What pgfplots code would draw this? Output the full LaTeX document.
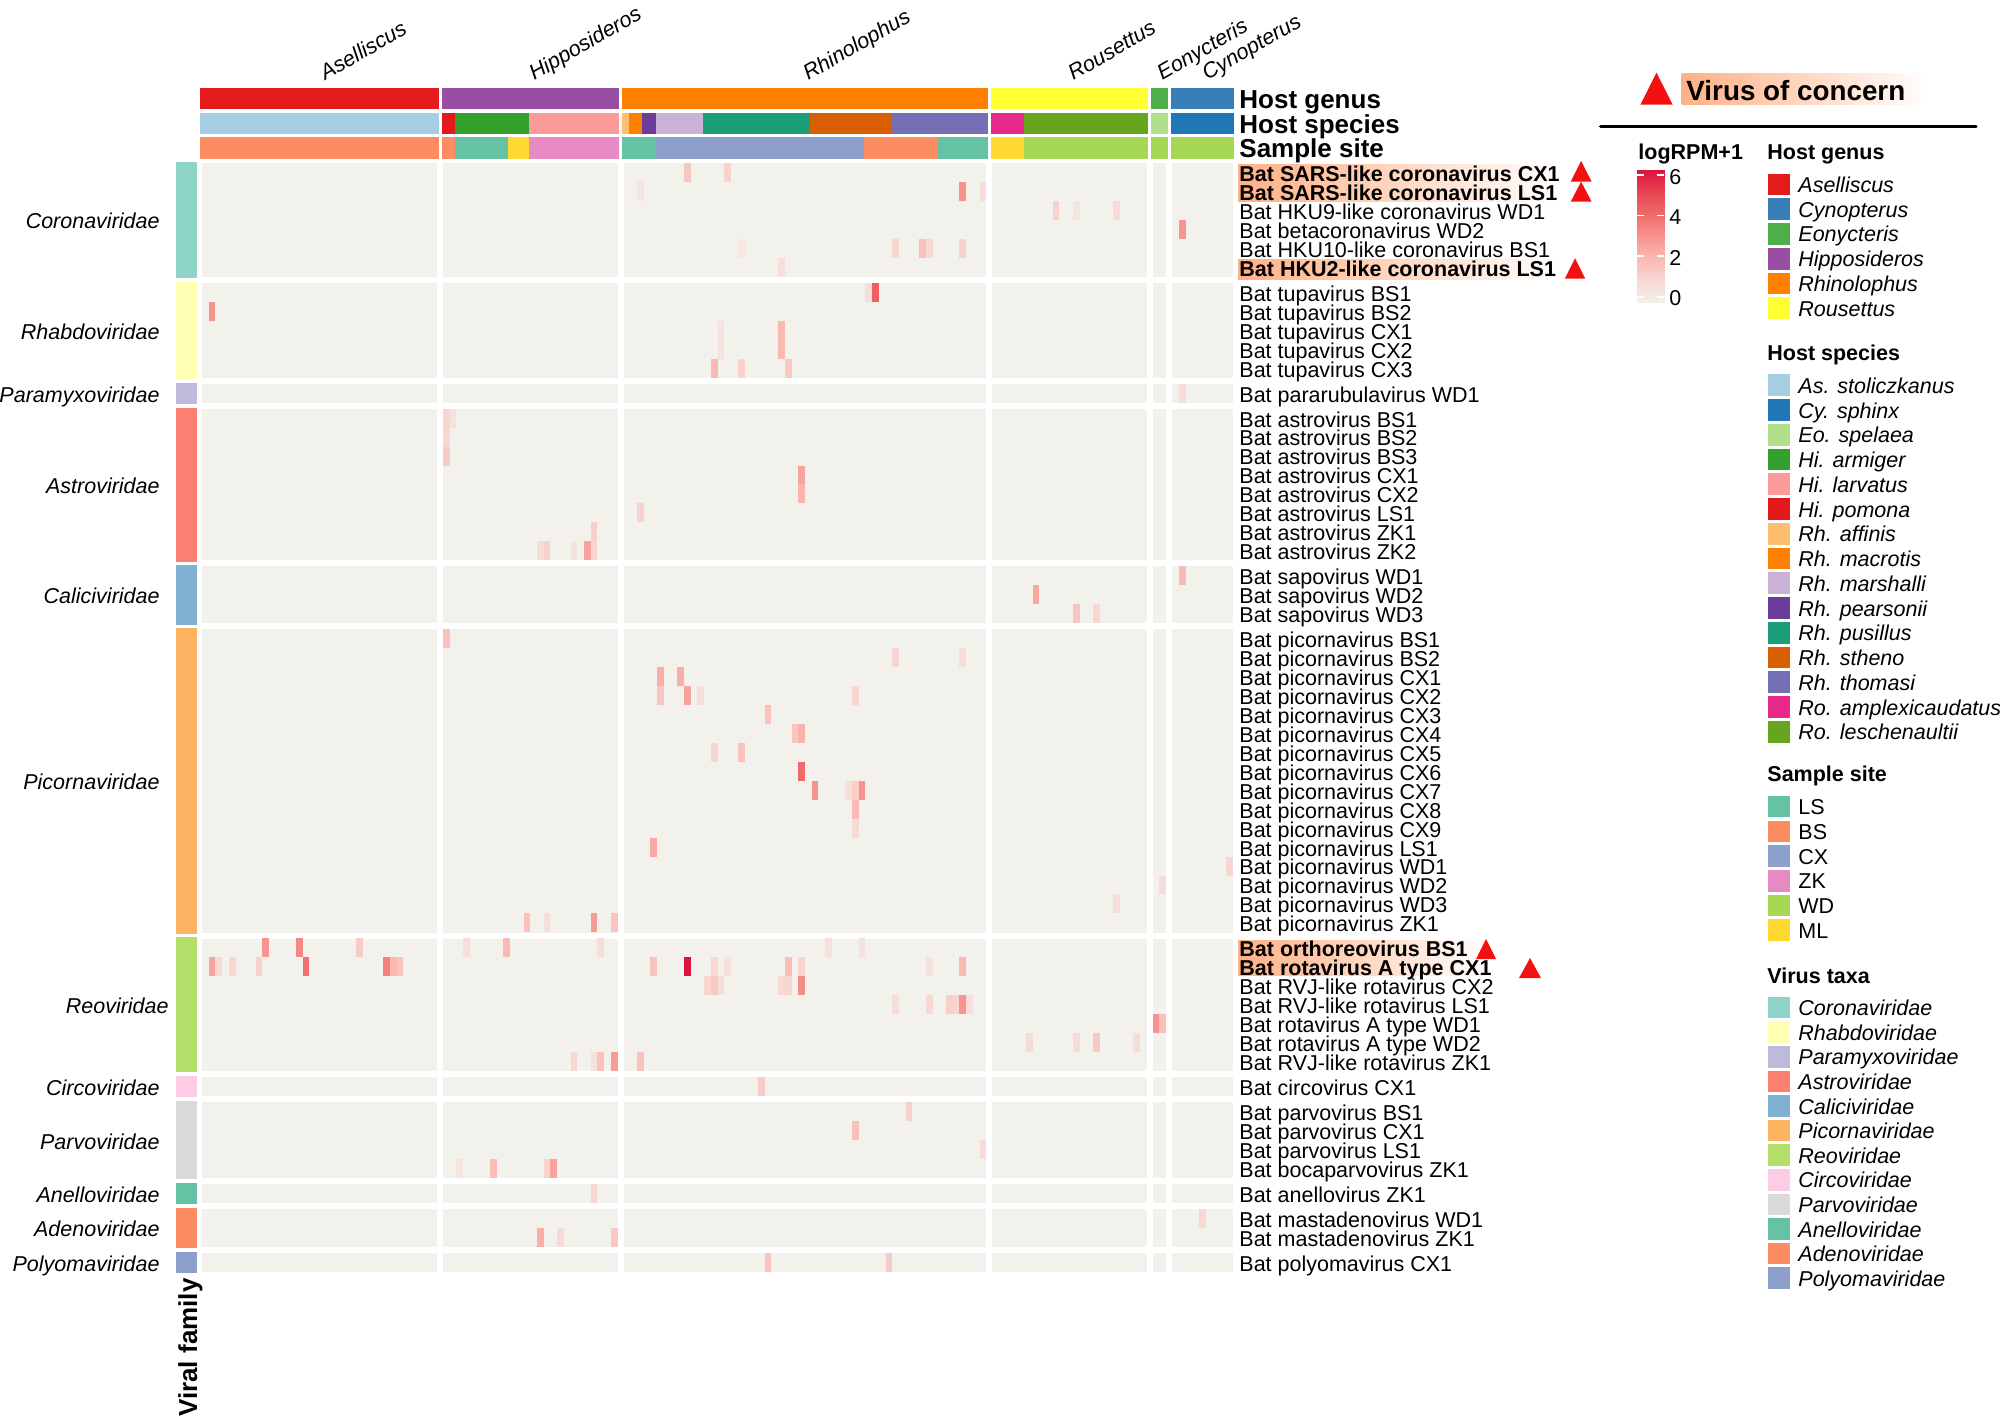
\documentclass[border=0pt]{standalone}
\usepackage{fontspec}
\setmainfont{Liberation Sans}
\usepackage{pgfplots}
\usepackage{pgfplotstable}
\pgfplotsset{compat=1.18}
\usepgfplotslibrary{patchplots}

% 1 unit of the big axis = 1 px of the reference = 0.5pt
\pgfdeclareplotmark{cell}{\pgfpathrectangle{\pgfqpoint{-1.68pt}{-4.74pt}}{\pgfqpoint{3.36pt}{9.48pt}}\pgfusepathqfill}
\pgfdeclareplotmark{swatch}{\pgfpathrectangle{\pgfqpoint{-5.5pt}{-5.4pt}}{\pgfqpoint{11pt}{10.8pt}}\pgfusepathqfill}

\definecolor{hl}{HTML}{FFB085}
\definecolor{trired}{HTML}{F21010}
\definecolor{cellbg}{HTML}{F3F1EC}
% host genus
\definecolor{gA}{HTML}{E41A1C}\definecolor{gC}{HTML}{377EB8}\definecolor{gE}{HTML}{4DAF4A}
\definecolor{gH}{HTML}{984EA3}\definecolor{gR}{HTML}{FF7F00}\definecolor{gO}{HTML}{FFFF33}
% host species
\definecolor{sAs}{HTML}{A6CEE3}\definecolor{sCy}{HTML}{1F78B4}\definecolor{sEo}{HTML}{B2DF8A}
\definecolor{sHa}{HTML}{33A02C}\definecolor{sHl}{HTML}{FB9A99}\definecolor{sHp}{HTML}{E31A1C}
\definecolor{sRa}{HTML}{FDBF6F}\definecolor{sRm}{HTML}{FF7F00}\definecolor{sRs}{HTML}{CAB2D6}
\definecolor{sRp}{HTML}{6A3D9A}\definecolor{sRu}{HTML}{1B9E77}\definecolor{sRt}{HTML}{D95F02}
\definecolor{sRh}{HTML}{7570B3}\definecolor{sOa}{HTML}{E7298A}\definecolor{sOl}{HTML}{66A61E}
% sample site
\definecolor{LS}{HTML}{66C2A5}\definecolor{BS}{HTML}{FC8D62}\definecolor{CX}{HTML}{8DA0CB}
\definecolor{ZK}{HTML}{E78AC3}\definecolor{WD}{HTML}{A6D854}\definecolor{ML}{HTML}{FFD92F}
% virus family
\definecolor{v1}{HTML}{8DD3C7}\definecolor{v2}{HTML}{FFFFB3}\definecolor{v3}{HTML}{BEBADA}
\definecolor{v4}{HTML}{FB8072}\definecolor{v5}{HTML}{80B1D3}\definecolor{v6}{HTML}{FDB462}
\definecolor{v7}{HTML}{B3DE69}\definecolor{v8}{HTML}{FCCDE5}\definecolor{v9}{HTML}{D9D9D9}
\definecolor{v10}{HTML}{66C2A5}\definecolor{v11}{HTML}{FC8D62}\definecolor{v12}{HTML}{8DA0CB}

% heatmap: c = column 1..149, r = row 1..55, v = logRPM+1
\pgfplotstableread{
c r v
71 1 1.6
77 1 1.2
64 2 0.5
112 2 3
115 2 0.8
125 3 1.2
128 3 0.5
134 3 0.9
142 4 3
79 5 0.4
102 5 1.1
106 5 1.8
107 5 1
112 5 1.2
85 6 0.7
98 7 0.7
99 7 4.3
2 8 3
76 9 0.6
85 9 2
76 10 0.6
85 10 2
75 11 2
79 11 1.2
86 11 1.5
142 12 0.8
36 13 1.1
37 13 0.6
36 14 1
36 15 1.4
88 16 2.6
88 17 2.1
64 18 1.2
58 19 1.3
50 20 0.9
51 20 1.2
55 20 0.6
57 20 2.6
58 20 1.1
142 21 2
122 22 2.5
128 23 1.6
131 23 1
36 24 1.7
102 25 1.1
112 25 0.8
67 26 2.3
70 26 2.3
67 27 1.6
71 27 2.6
73 27 0.7
96 27 1.1
83 28 1.7
87 29 1.6
88 29 2.2
75 30 1.1
79 30 1.7
88 31 4
90 32 3
95 32 0.8
96 32 1.3
97 32 3
96 33 2
96 34 0.9
66 35 2.4
149 36 1.1
140 37 0.8
134 38 0.7
48 39 1.7
51 39 0.7
58 39 2.8
61 39 1.6
10 40 3
15 40 3.3
24 40 1.4
39 40 0.7
45 40 2
59 40 0.8
92 40 0.6
97 40 0.6
2 41 2.6
3 41 0.9
5 41 1
9 41 1.2
16 41 3.8
28 41 3.5
29 41 2
30 41 1.7
66 41 1.7
71 41 6
75 41 1
77 41 0.7
86 41 1.9
88 41 1.1
107 41 0.6
112 41 2
74 42 1.1
75 42 1.5
76 42 0.8
85 42 1
86 42 1.1
88 42 3.2
102 43 0.8
107 43 1
110 43 1.3
111 43 1.1
112 43 3
113 43 0.7
139 44 3
140 44 1.8
121 45 0.9
128 45 0.9
131 45 1.5
137 45 0.8
55 46 1
58 46 0.6
59 46 1.7
61 46 2.8
64 46 1.7
82 47 1.4
104 48 1.3
96 49 1.8
115 50 0.9
38 51 0.5
43 51 1.8
51 51 1.2
52 51 2.6
58 52 1
145 53 1
50 54 2.3
53 54 0.9
61 54 1.5
83 55 1.7
101 55 1.4
}\heatdata

\pgfplotsset{
  colormap={heat}{rgb255(0pt)=(243,241,236); rgb255(1pt)=(247,216,211); rgb255(2pt)=(250,185,179);
    rgb255(3pt)=(248,148,143); rgb255(4pt)=(239,107,106); rgb255(5pt)=(231,68,82); rgb255(6pt)=(220,20,60)},
}

\newcommand{\bodyfont}{\fontsize{10.75}{10.75}\selectfont}
\newcommand{\headfont}{\fontsize{13}{13}\selectfont\bfseries}
% filled box: x0 x1 y0 y1 colour
\newcommand{\ann}[5]{\addplot[fill=#5,draw=none] coordinates {(#1,#3)(#2,#3)(#2,#4)(#1,#4)} -- cycle;}
% three annotation tracks
\newcommand{\gen}[3]{\ann{#1}{#2}{88}{109.3}{#3}}
\newcommand{\spc}[3]{\ann{#1}{#2}{112.7}{134}{#3}}
\newcommand{\sit}[3]{\ann{#1}{#2}{137.3}{158.7}{#3}}
% viral family bar and its name: [right end of name] y0 y1 centre colour name
\newcommand{\vfam}[6][160]{\ann{175.5}{197}{#2}{#3}{#5}\node[anchor=base east,inner sep=0pt,yshift=-4.5pt,font=\bodyfont\itshape] at (axis cs:#1,#4) {#6};}
\newcommand{\lab}[2]{\node[anchor=base west,inner sep=0pt,yshift=-4.4pt,font=\bodyfont] at (axis cs:1239,#1) {#2};}
\newcommand{\blab}[2]{\node[anchor=base west,inner sep=0pt,yshift=-4.4pt,font=\bodyfont\bfseries] at (axis cs:1239,#1) {#2};}
\newcommand{\leg}[3]{\addplot[only marks,mark=swatch,color=#2] coordinates {(1779,#1)};\node[anchor=base west,inner sep=0pt,yshift=-4pt,font=\bodyfont] at (axis cs:1798,#1) {#3};}
\newcommand{\legtitle}[2]{\node[anchor=base west,inner sep=0pt,font=\bodyfont\bfseries] at (axis cs:1767,#1) {#2};}
\newcommand{\hil}[4]{\addplot[draw=none,left color=hl,right color=white] coordinates {(#1,#3)(#2,#3)(#2,#4)(#1,#4)} -- cycle;}
% triangle: left right tipx top bottom
\newcommand{\tri}[5]{\addplot[fill=trired,draw=none] coordinates {(#1,#5)(#2,#5)(#3,#4)} -- cycle;}
\newcommand{\genus}[2]{\node[rotate=30,anchor=base west,inner sep=0pt,font=\bodyfont\itshape] at (axis cs:#1,81) {#2};}

\begin{document}
\begin{tikzpicture}
\useasboundingbox (0,0) rectangle (1000pt,708.5pt);
\begin{axis}[
  at={(0,0)}, anchor=south west,
  width=1000pt, height=708.5pt, scale only axis,
  xmin=0, xmax=2000, ymin=0, ymax=1417, y dir=reverse,
  axis lines=none, clip=false,
  colormap name=heat, point meta min=0, point meta max=6,
]
% heatmap ground and the gaps between the splits
\ann{202}{1232.5}{163.3}{1271.8}{cellbg}
\ann{437}{443}{160}{1275}{white}
\ann{617.6}{623.6}{160}{1275}{white}
\ann{986.2}{992.2}{160}{1275}{white}
\ann{1146.7}{1152.7}{160}{1275}{white}
\ann{1166.1}{1172.1}{160}{1275}{white}
\ann{200}{1235}{277}{283}{white}
\ann{200}{1235}{377.8}{383.8}{white}
\ann{200}{1235}{402.8}{408.8}{white}
\ann{200}{1235}{560.4}{566.4}{white}
\ann{200}{1235}{623.3}{629.3}{white}
\ann{200}{1235}{932.5}{938.5}{white}
\ann{200}{1235}{1071.2}{1077.2}{white}
\ann{200}{1235}{1096.1}{1102.1}{white}
\ann{200}{1235}{1177.9}{1183.9}{white}
\ann{200}{1235}{1202.9}{1208.9}{white}
\ann{200}{1235}{1246.8}{1252.8}{white}

\addplot[scatter,only marks,mark=cell,scatter src=explicit,
  scatter/use mapped color={fill=mapped color,draw=none}]
  table[meta=v,
    x expr={202+(\thisrow{c}-0.5)*6.715+6*((\thisrow{c}>35)+(\thisrow{c}>61)+(\thisrow{c}>115)+(\thisrow{c}>138)+(\thisrow{c}>140))},
    y expr={163.3+(\thisrow{r}-0.5)*18.95+6*((\thisrow{r}>6)+(\thisrow{r}>11)+(\thisrow{r}>12)+(\thisrow{r}>20)+(\thisrow{r}>23)+(\thisrow{r}>39)+(\thisrow{r}>46)+(\thisrow{r}>47)+(\thisrow{r}>51)+(\thisrow{r}>52)+(\thisrow{r}>54))}
  ] {\heatdata};

% host genus track
\gen{200.4}{438.6}{gA}
\gen{441.5}{619.2}{gH}
\gen{622.1}{987.5}{gR}
\gen{990.6}{1148.2}{gO}
\gen{1151.3}{1167.9}{gE}
\gen{1171}{1234.4}{gC}
% host species track
\spc{200.4}{438.6}{sAs}
\spc{441.5}{455.4}{sHp}
\spc{455.4}{529}{sHa}
\spc{529}{619.2}{sHl}
\spc{622.1}{628.8}{sRa}
\spc{628.8}{642.3}{sRm}
\spc{642.3}{655.8}{sRp}
\spc{655.8}{703.1}{sRs}
\spc{703.1}{809.8}{sRu}
\spc{809.8}{890.6}{sRt}
\spc{890.6}{987.5}{sRh}
\spc{990.6}{1024.1}{sOa}
\spc{1024.1}{1148.2}{sOl}
\spc{1151.3}{1167.9}{sEo}
\spc{1171}{1234.4}{sCy}
% sample site track
\sit{200.4}{438.6}{BS}
\sit{441.5}{455.4}{BS}
\sit{455.4}{508.4}{LS}
\sit{508.4}{529}{ML}
\sit{529}{619.2}{ZK}
\sit{622.1}{655.8}{LS}
\sit{655.8}{863.8}{CX}
\sit{863.8}{938}{BS}
\sit{938}{987.5}{LS}
\sit{990.6}{1024.1}{ML}
\sit{1024.1}{1148.2}{WD}
\sit{1151.3}{1167.9}{WD}
\sit{1171}{1234.4}{WD}

\genus{325}{Aselliscus}
\genus{534}{Hipposideros}
\genus{808}{Rhinolophus}
\genus{1073}{Rousettus}
\genus{1162}{Eonycteris}
\genus{1207}{Cynopterus}

\node[anchor=base west,inner sep=0pt,font=\headfont] at (axis cs:1239,108.7) {Host genus};
\node[anchor=base west,inner sep=0pt,font=\headfont] at (axis cs:1239,133.3) {Host species};
\node[anchor=base west,inner sep=0pt,font=\headfont] at (axis cs:1239,157.7) {Sample site};

% viral family column
\vfam{162}{278.3}{220}{v1}{Coronaviridae}
\vfam{281.7}{379}{330.4}{v2}{Rhabdoviridae}
\vfam{382.6}{404}{393.3}{v3}{Paramyxoviridae}
\vfam{407.6}{561.6}{484.6}{v4}{Astroviridae}
\vfam{565.2}{624.5}{594.8}{v5}{Caliciviridae}
\vfam{628.1}{933.7}{780.9}{v6}{Picornaviridae}
\vfam[169]{937.3}{1072.4}{1004.8}{v7}{Reoviridae}
\vfam{1076}{1097.3}{1086.7}{v8}{Circoviridae}
\vfam{1100.9}{1179.1}{1140}{v9}{Parvoviridae}
\vfam{1182.7}{1204.1}{1193.4}{v10}{Anelloviridae}
\vfam{1207.7}{1248}{1227.8}{v11}{Adenoviridae}
\vfam{1251.6}{1273}{1262.3}{v12}{Polyomaviridae}
\node[rotate=90,anchor=base east,inner sep=0pt,font=\headfont] at (axis cs:197,1278) {Viral family};

% highlighted rows
\hil{1238}{1561}{165}{201.7}
\hil{1238}{1561}{260}{280}
\hil{1238}{1490}{940}{975.7}
\hil{1681.7}{1929}{73.3}{104.3}

% row names
\blab{172.8}{Bat SARS-like coronavirus CX1}
\blab{191.7}{Bat SARS-like coronavirus LS1}
\lab{210.7}{Bat HKU9-like coronavirus WD1}
\lab{229.6}{Bat betacoronavirus WD2}
\lab{248.6}{Bat HKU10-like coronavirus BS1}
\blab{267.5}{Bat HKU2-like coronavirus LS1}
\lab{292.5}{Bat tupavirus BS1}
\lab{311.4}{Bat tupavirus BS2}
\lab{330.4}{Bat tupavirus CX1}
\lab{349.3}{Bat tupavirus CX2}
\lab{368.3}{Bat tupavirus CX3}
\lab{393.2}{Bat pararubulavirus WD1}
\lab{418.2}{Bat astrovirus BS1}
\lab{437.1}{Bat astrovirus BS2}
\lab{456.1}{Bat astrovirus BS3}
\lab{475}{Bat astrovirus CX1}
\lab{494}{Bat astrovirus CX2}
\lab{512.9}{Bat astrovirus LS1}
\lab{531.9}{Bat astrovirus ZK1}
\lab{550.8}{Bat astrovirus ZK2}
\lab{575.8}{Bat sapovirus WD1}
\lab{594.8}{Bat sapovirus WD2}
\lab{613.7}{Bat sapovirus WD3}
\lab{638.7}{Bat picornavirus BS1}
\lab{657.7}{Bat picornavirus BS2}
\lab{676.6}{Bat picornavirus CX1}
\lab{695.6}{Bat picornavirus CX2}
\lab{714.5}{Bat picornavirus CX3}
\lab{733.5}{Bat picornavirus CX4}
\lab{752.4}{Bat picornavirus CX5}
\lab{771.4}{Bat picornavirus CX6}
\lab{790.3}{Bat picornavirus CX7}
\lab{809.3}{Bat picornavirus CX8}
\lab{828.2}{Bat picornavirus CX9}
\lab{847.2}{Bat picornavirus LS1}
\lab{866.1}{Bat picornavirus WD1}
\lab{885.1}{Bat picornavirus WD2}
\lab{904}{Bat picornavirus WD3}
\lab{923}{Bat picornavirus ZK1}
\blab{948}{Bat orthoreovirus BS1}
\blab{966.9}{Bat rotavirus A type CX1}
\lab{985.9}{Bat RVJ-like rotavirus CX2}
\lab{1004.8}{Bat RVJ-like rotavirus LS1}
\lab{1023.8}{Bat rotavirus A type WD1}
\lab{1042.7}{Bat rotavirus A type WD2}
\lab{1061.7}{Bat RVJ-like rotavirus ZK1}
\lab{1086.7}{Bat circovirus CX1}
\lab{1111.6}{Bat parvovirus BS1}
\lab{1130.6}{Bat parvovirus CX1}
\lab{1149.5}{Bat parvovirus LS1}
\lab{1168.5}{Bat bocaparvovirus ZK1}
\lab{1193.4}{Bat anellovirus ZK1}
\lab{1218.4}{Bat mastadenovirus WD1}
\lab{1237.3}{Bat mastadenovirus ZK1}
\lab{1262.3}{Bat polyomavirus CX1}

% virus of concern marks
\tri{1570.7}{1591.6}{1581.1}{161}{181.7}
\tri{1570.7}{1591.6}{1581.1}{181.7}{201.7}
\tri{1564.8}{1585.2}{1575}{258.3}{278.7}
\tri{1476}{1496}{1486}{939}{959}
\tri{1519}{1541}{1530}{958}{978}
\tri{1640.4}{1672.7}{1656.5}{72.7}{104.7}
\node[anchor=base west,inner sep=0pt,font=\fontsize{13.9}{13.9}\selectfont\bfseries] at (axis cs:1686,101) {Virus of concern};
\addplot[black,line width=1.7pt,line cap=round] coordinates {(1600.6,126.3)(1976,126.3)};

\node[anchor=base west,inner sep=0pt,font=\bodyfont\bfseries] at (axis cs:1638,159.5) {logRPM+1};

% legends
\legtitle{160}{Host genus}
\leg{184.5}{gA}{\itshape Aselliscus}
\leg{209.25}{gC}{\itshape Cynopterus}
\leg{234}{gE}{\itshape Eonycteris}
\leg{258.75}{gH}{\itshape Hipposideros}
\leg{283.5}{gR}{\itshape Rhinolophus}
\leg{308.25}{gO}{\itshape Rousettus}
\legtitle{360}{Host species}
\leg{385.2}{sAs}{\itshape As. stoliczkanus}
\leg{410}{sCy}{\itshape Cy. sphinx}
\leg{434.7}{sEo}{\itshape Eo. spelaea}
\leg{459.5}{sHa}{\itshape Hi. armiger}
\leg{484.2}{sHl}{\itshape Hi. larvatus}
\leg{509}{sHp}{\itshape Hi. pomona}
\leg{533.7}{sRa}{\itshape Rh. affinis}
\leg{558.5}{sRm}{\itshape Rh. macrotis}
\leg{583.2}{sRs}{\itshape Rh. marshalli}
\leg{608}{sRp}{\itshape Rh. pearsonii}
\leg{632.7}{sRu}{\itshape Rh. pusillus}
\leg{657.5}{sRt}{\itshape Rh. stheno}
\leg{682.2}{sRh}{\itshape Rh. thomasi}
\leg{707}{sOa}{\itshape Ro. amplexicaudatus}
\leg{731.7}{sOl}{\itshape Ro. leschenaultii}
\legtitle{781.8}{Sample site}
\leg{806.6}{LS}{LS}
\leg{831.3}{BS}{BS}
\leg{856}{CX}{CX}
\leg{880.7}{ZK}{ZK}
\leg{905.4}{WD}{WD}
\leg{930.1}{ML}{ML}
\legtitle{983}{Virus taxa}
\leg{1007.6}{v1}{\itshape Coronaviridae}
\leg{1032.2}{v2}{\itshape Rhabdoviridae}
\leg{1056.8}{v3}{\itshape Paramyxoviridae}
\leg{1081.4}{v4}{\itshape Astroviridae}
\leg{1106}{v5}{\itshape Caliciviridae}
\leg{1130.6}{v6}{\itshape Picornaviridae}
\leg{1155.2}{v7}{\itshape Reoviridae}
\leg{1179.8}{v8}{\itshape Circoviridae}
\leg{1204.4}{v9}{\itshape Parvoviridae}
\leg{1229}{v10}{\itshape Anelloviridae}
\leg{1253.6}{v11}{\itshape Adenoviridae}
\leg{1278.2}{v12}{\itshape Polyomaviridae}
\end{axis}

% colour key: bar from y=170 to y=303 in reference px
\begin{axis}[
  at={(818.5pt,557pt)}, anchor=south west,
  width=13.5pt, height=66.5pt, scale only axis,
  xmin=0, xmax=1, ymin=-0.3, ymax=6.25,
  xtick=\empty, ytick={0,2,4,6},
  axis line style={draw=none},
  ymajorticks=true, ytick pos=both, yticklabel pos=right,
  tick align=inside, major tick length=3.5pt,
  tick style={white,line width=0.8pt},
  yticklabel style={font=\bodyfont,/pgf/number format/assume math mode=true,xshift=-0.8pt,yshift=-0.8pt},
  colormap name=heat, point meta min=0, point meta max=6,
  axis on top,
]
\addplot[patch,patch type=rectangle,shader=interp,point meta=y]
  coordinates {(0,-0.3)(1,-0.3)(1,6.25)(0,6.25)};
\end{axis}
\end{tikzpicture}
\end{document}
